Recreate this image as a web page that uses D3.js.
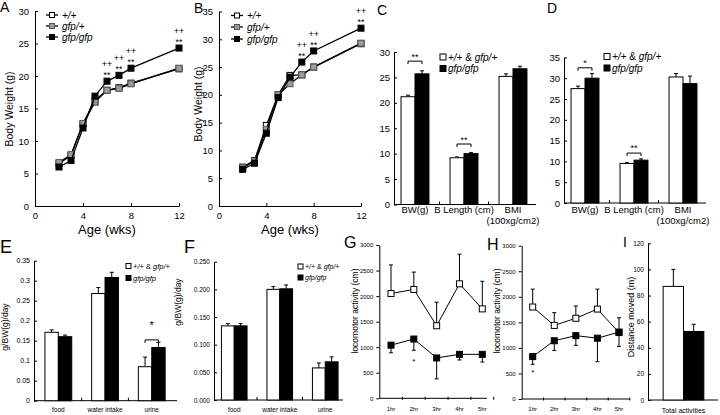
<!DOCTYPE html>
<html>
<head>
<meta charset="utf-8">
<script src="https://cdn.jsdelivr.net/npm/d3@7"></script>
<style>
  body { margin: 0; background: #fff; }
  svg text { font-family: "Liberation Sans", Arial, sans-serif; fill: #000; }
</style>
</head>
<body>
<div id="figure"></div>
<script>
// ---------- data ----------
const ageWeeks = [2, 3, 4, 5, 6, 7, 8, 12];
const growthLegend = ["+/+", "gfp/+", "gfp/gfp"];

// panel A body weight, g
const aWt  = [6.5, 7.8, 12.6, 16.0, 17.8, 18.2, 18.9, 21.1];
const aHet = [6.7, 7.9, 12.7, 16.3, 17.8, 18.1, 18.8, 21.2];
const aHom = [6.0, 7.0, 12.0, 16.9, 19.2, 20.1, 21.2, 24.3];
const aSigWeeks = [6, 7, 8, 12];

// panel B body weight, g
const bWt  = [7.0, 8.2, 14.5, 20.0, 23.5, 23.6, 25.0, 29.2];
const bHet = [6.9, 8.1, 13.8, 20.0, 22.0, 23.6, 25.0, 29.3];
const bHom = [6.6, 7.7, 13.1, 19.5, 23.2, 25.9, 27.9, 32.0];
const bSigWeeks = [7, 8, 12];

// panels C / D
const bodyCats = ["BW(g)", "B Length (cm)", "BMI"];
const bodyLabels = [["BW(g)"], ["B Length (cm)"], ["BMI", "(100xg/cm2)"]];
const cCtrl = [21.2, 9.2, 25.2], cCtrlErr = [0.3, 0.15, 0.5];
const cHom  = [25.7, 10.0, 26.7], cHomErr = [0.6, 0.2, 0.5];
const cSig = [{cat: "BW(g)", level: 28.2, mark: "**"}, {cat: "B Length (cm)", level: 11.9, mark: "**"}];
const dCtrl = [27.5, 9.5, 30.3], dCtrlErr = [0.6, 0.2, 0.8];
const dHom  = [30.0, 10.3, 28.7], dHomErr = [1.1, 0.3, 1.8];
const dSig = [{cat: "BW(g)", level: 32.5, mark: "*"}, {cat: "B Length (cm)", level: 12.0, mark: "**"}];

// panels E / F, g/BW(g)/day
const intakeCats = ["food", "water intake", "urine"];
const eCtrl = [0.171, 0.268, 0.085], eCtrlErr = [0.006, 0.015, 0.024];
const eHom  = [0.160, 0.308, 0.133], eHomErr = [0.004, 0.013, 0.013];
const eSig = [{cat: "urine", level: 0.152, mark: "*"}];
const fCtrl = [0.134, 0.200, 0.058], fCtrlErr = [0.004, 0.005, 0.009];
const fHom  = [0.134, 0.201, 0.069], fHomErr = [0.004, 0.007, 0.009];

// panels G / H, locomotor activity (cm)
const hours = ["1hr", "2hr", "3hr", "4hr", "5hr"];
const gCtrl = [2050, 2130, 1420, 2240, 1750], gCtrlErr = [560, 340, 460, 580, 540];
const gHom  = [1040, 1160, 790, 860, 860],    gHomErr  = [150, 220, 410, 110, 150];
const gHomErrUp = [0, 0, 0, 0, 0];
const hCtrl = [1800, 1440, 1580, 1760, 1300], hCtrlErr = [350, 250, 240, 390, 0];
const hHom  = [830, 1140, 1240, 1190, 1310],  hHomErr  = [150, 190, 190, 460, 280];
const hHomErrUp = [0, 0, 0, 0, 280];

// panel I, distance moved (m)
const totalCats = ["Total activities"];
const iCtrl = [87.0], iCtrlErr = [13.0];
const iHom  = [52.5], iHomErr  = [5.5];

// ---------- drawing ----------
const svg = d3.select("#figure").append("svg")
  .attr("width", 720).attr("height", 415);

function letter(t, x, y, size) {
  svg.append("text").attr("x", x).attr("y", y).attr("font-size", size).text(t);
}

function vLabel(t, x, y, size) {
  svg.append("text").attr("transform", `translate(${x},${y}) rotate(-90)`)
    .attr("text-anchor", "middle").attr("font-size", size).text(t);
}

// legend text with italic genotype parts
function genoText(sel, label) {
  if (label === "+/+ & gfp/+") {
    sel.append("tspan").attr("font-style", "italic").text("+/+");
    sel.append("tspan").text(" & ");
    sel.append("tspan").attr("font-style", "italic").text("gfp/+");
  } else {
    sel.attr("font-style", "italic").text(label);
  }
}

function growth(o) {
  const x = d3.scaleLinear().domain([0, 12]).range(o.xr);
  const y = d3.scaleLinear().domain([0, o.ymax]).range(o.yr);
  const g = svg.append("g");

  g.append("g").attr("transform", `translate(${o.xr[0]},0)`)
    .call(d3.axisLeft(y).tickValues(d3.range(0, o.ymax + 1, 5)).tickSizeInner(-3).tickSizeOuter(0).tickPadding(6))
    .attr("font-size", 9.5);
  g.append("g").attr("transform", `translate(0,${o.yr[0]})`)
    .call(d3.axisBottom(x).tickValues([0, 4, 8, 12]).tickSizeInner(-3).tickSizeOuter(0).tickPadding(6))
    .attr("font-size", 9.5);

  const series = [
    {vals: o.wt, fill: "#fff", stroke: "#000"},
    {vals: o.het, fill: "#9c9c9c", stroke: "#555"},
    {vals: o.hom, fill: "#000", stroke: "#000"}
  ];
  const line = d3.line().x(d => x(d[0])).y(d => y(d[1]));
  series.forEach(s => {
    const pts = ageWeeks.map((w, i) => [w, s.vals[i]]);
    g.append("path").attr("d", line(pts)).attr("fill", "none")
      .attr("stroke", "#000").attr("stroke-width", 1.3);
    g.selectAll(null).data(pts).join("rect")
      .attr("x", d => x(d[0]) - 3).attr("y", d => y(d[1]) - 3)
      .attr("width", 6).attr("height", 6)
      .attr("fill", s.fill).attr("stroke", s.stroke).attr("stroke-width", 1);
  });

  // significance marks above gfp/gfp points
  o.sig.forEach(wk => {
    const i = ageWeeks.indexOf(wk);
    const px = x(wk), py = y(o.hom[i]);
    g.append("text").attr("x", px).attr("y", py - 3).attr("text-anchor", "middle").attr("font-size", 9).text("**");
    g.append("text").attr("x", px).attr("y", py - 14).attr("text-anchor", "middle").attr("font-size", 9).text("++");
  });

  // legend
  growthLegend.forEach((lab, i) => {
    const ly = o.leg.y[i];
    g.append("line").attr("x1", o.leg.x - 6).attr("x2", o.leg.x + 6).attr("y1", ly).attr("y2", ly)
      .attr("stroke", "#000").attr("stroke-width", 1.3);
    g.append("rect").attr("x", o.leg.x - 2.5).attr("y", ly - 2.5).attr("width", 5).attr("height", 5)
      .attr("fill", series[i].fill).attr("stroke", series[i].stroke);
    g.append("text").attr("x", o.leg.x + 10).attr("y", ly + 3.5).attr("font-size", 10)
      .call(genoText, lab);
  });

  vLabel("Body Weight (g)", o.labX, o.labY, 10.5);
}

function bars(o) {
  const x = d3.scaleBand().domain(o.cats).range(o.xr).paddingInner(o.pad).paddingOuter(o.pad / 2);
  const y = d3.scaleLinear().domain([0, o.ymax]).range(o.yr);
  const g = svg.append("g");
  const bw = x.bandwidth() / 2;

  g.append("g").attr("transform", `translate(${o.ax[0]},0)`)
    .call(d3.axisLeft(y).tickValues(o.yticks).tickFormat(o.fmt).tickSizeInner(-3).tickSizeOuter(0).tickPadding(4))
    .attr("font-size", o.tickFont);
  g.append("line").attr("x1", o.ax[0]).attr("x2", o.ax[1]).attr("y1", y(0)).attr("y2", y(0))
    .attr("stroke", "#000");
  // small marks between categories
  o.cats.slice(1).forEach(c => {
    const sx = x(c) - (x.step() - x.bandwidth()) / 2;
    g.append("line").attr("x1", sx).attr("x2", sx).attr("y1", y(0)).attr("y2", y(0) - 3).attr("stroke", "#000");
  });

  const groups = [
    {vals: o.ctrl, err: o.ctrlErr, fill: "#fff", dx: 0},
    {vals: o.hom, err: o.homErr, fill: "#000", dx: bw}
  ];
  groups.forEach(gr => {
    o.cats.forEach((c, i) => {
      const cx = x(c) + gr.dx + bw / 2;
      g.append("line").attr("x1", cx).attr("x2", cx)
        .attr("y1", y(gr.vals[i])).attr("y2", y(gr.vals[i] + gr.err[i])).attr("stroke", "#000");
      g.append("line").attr("x1", cx - 2).attr("x2", cx + 2)
        .attr("y1", y(gr.vals[i] + gr.err[i])).attr("y2", y(gr.vals[i] + gr.err[i])).attr("stroke", "#000");
    });
    g.selectAll(null).data(o.cats).join("rect")
      .attr("x", c => x(c) + gr.dx).attr("y", (c, i) => y(gr.vals[i]))
      .attr("width", bw).attr("height", (c, i) => y(0) - y(gr.vals[i]))
      .attr("fill", gr.fill).attr("stroke", "#000").attr("stroke-width", 1);
  });

  // category labels
  o.cats.forEach((c, i) => {
    const cx = x(c) + x.bandwidth() / 2;
    const t = g.append("text").attr("text-anchor", "middle").attr("font-size", o.labFont)
      .attr("x", cx).attr("y", o.labY);
    o.labels[i].forEach((ln, k) => {
      t.append("tspan").attr("x", cx).attr("dy", k ? o.labFont * 1.2 : 0).text(ln);
    });
  });

  // significance brackets
  (o.sig || []).forEach(s => {
    const x1 = x(s.cat) + bw / 2, x2 = x(s.cat) + bw * 1.5, by = y(s.level);
    g.append("path").attr("d", `M${x1},${by + 3}V${by}H${x2}V${by + 3}`)
      .attr("fill", "none").attr("stroke", "#000");
    g.append("text").attr("x", (x1 + x2) / 2).attr("y", by - o.sigDy).attr("text-anchor", "middle")
      .attr("font-size", o.sigFont).text(s.mark);
  });

  // legend
  if (o.leg) {
    ["+/+ & gfp/+", "gfp/gfp"].forEach((lab, i) => {
      const ly = o.leg.y[i];
      g.append("rect").attr("x", o.leg.x).attr("y", ly - o.leg.s / 2).attr("width", o.leg.s).attr("height", o.leg.s)
        .attr("fill", i ? "#000" : "#fff").attr("stroke", "#000");
      g.append("text").attr("x", o.leg.x + o.leg.s + 2).attr("y", ly + o.leg.font * 0.35)
        .attr("font-size", o.leg.font).call(genoText, lab);
    });
  }
}

function activity(o) {
  const x = d3.scalePoint().domain(hours).range(o.xr);
  const y = d3.scaleLinear().domain([0, 3000]).range(o.yr);
  const g = svg.append("g");

  g.append("g").attr("transform", `translate(${o.ax[0]},0)`)
    .call(d3.axisLeft(y).tickValues(d3.range(0, 3001, 500)).tickFormat(d3.format("d"))
      .tickSizeInner(3).tickSizeOuter(0).tickPadding(3))
    .attr("font-size", 6);
  g.append("line").attr("x1", o.ax[0]).attr("x2", o.ax[1]).attr("y1", y(0)).attr("y2", y(0)).attr("stroke", "#000");
  const half = x.step() / 2;
  hours.forEach(h => {
    g.append("line").attr("x1", x(h) + half).attr("x2", x(h) + half)
      .attr("y1", y(0) - 1.5).attr("y2", y(0) + 1.5).attr("stroke", "#000");
    g.append("text").attr("x", x(h)).attr("y", 410.5).attr("text-anchor", "middle")
      .attr("font-size", 6).text(h);
  });

  const line = d3.line().x((d, i) => x(hours[i])).y(d => y(d));
  const cap = (cx, v) => g.append("line").attr("x1", cx - 2).attr("x2", cx + 2)
    .attr("y1", y(v)).attr("y2", y(v)).attr("stroke", "#000");
  const err = (cx, a, b) => {
    g.append("line").attr("x1", cx).attr("x2", cx).attr("y1", y(a)).attr("y2", y(b)).attr("stroke", "#000");
    cap(cx, b);
  };
  hours.forEach((h, i) => {
    if (o.ctrlErr[i]) err(x(h), o.ctrl[i], o.ctrl[i] + o.ctrlErr[i]);
    if (o.homErr[i]) err(x(h), o.hom[i], o.hom[i] - o.homErr[i]);
    if (o.homErrUp[i]) err(x(h), o.hom[i], o.hom[i] + o.homErrUp[i]);
  });
  [{v: o.ctrl, fill: "#fff"}, {v: o.hom, fill: "#000"}].forEach(s => {
    g.append("path").attr("d", line(s.v)).attr("fill", "none").attr("stroke", "#000").attr("stroke-width", 1);
    g.selectAll(null).data(s.v).join("rect")
      .attr("x", (d, i) => x(hours[i]) - 3).attr("y", d => y(d) - 3)
      .attr("width", 6).attr("height", 6)
      .attr("fill", s.fill).attr("stroke", "#000");
  });

  g.append("text").attr("x", x(o.star)).attr("y", o.starY).attr("text-anchor", "middle")
    .attr("font-size", 8).text("*");
  vLabel("locomotor activity (cm)", o.labX, 311, 8.5);
}

// ---- A, B ----
growth({xr: [35, 179], yr: [206, 11], ymax: 30, wt: aWt, het: aHet, hom: aHom, sig: aSigWeeks,
        leg: {x: 52, y: [15, 26, 37]}, labX: 13, labY: 109});
growth({xr: [219, 361], yr: [206, 11.5], ymax: 35, wt: bWt, het: bHet, hom: bHom, sig: bSigWeeks,
        leg: {x: 237, y: [15.5, 27, 39]}, labX: 202, labY: 104});
svg.append("text").attr("x", 107).attr("y", 234).attr("text-anchor", "middle").attr("font-size", 13).text("Age (wks)");
svg.append("text").attr("x", 290).attr("y", 234).attr("text-anchor", "middle").attr("font-size", 13).text("Age (wks)");

// ---- C, D ----
bars({cats: bodyCats, labels: bodyLabels, ctrl: cCtrl, ctrlErr: cCtrlErr, hom: cHom, homErr: cHomErr,
      xr: [390.5, 537.5], pad: 0.43, ax: [394, 536], ymax: 30, yr: [204.5, 52],
      yticks: d3.range(0, 31, 5), fmt: d3.format("d"), tickFont: 9.5,
      labFont: 9.5, labY: 212.5, sig: cSig, sigDy: 1, sigFont: 9,
      leg: {x: 440, y: [57, 68.5], s: 6, font: 10}});
bars({cats: bodyCats, labels: bodyLabels, ctrl: dCtrl, ctrlErr: dCtrlErr, hom: dHom, homErr: dHomErr,
      xr: [560.5, 707.5], pad: 0.43, ax: [564, 706], ymax: 35, yr: [203, 57.4],
      yticks: d3.range(0, 36, 5), fmt: d3.format("d"), tickFont: 9.5,
      labFont: 9.5, labY: 212.5, sig: dSig, sigDy: 2, sigFont: 9,
      leg: {x: 604, y: [56.5, 68], s: 6, font: 10}});

// ---- E, F ----
bars({cats: intakeCats, labels: intakeCats.map(c => [c]), ctrl: eCtrl, ctrlErr: eCtrlErr, hom: eHom, homErr: eHomErr,
      xr: [35, 175.1], pad: 0.426, ax: [34, 177], ymax: 0.35, yr: [400.7, 260.7],
      yticks: d3.range(0, 0.351, 0.05), fmt: d => String(+d.toFixed(2)), tickFont: 7,
      labFont: 6.5, labY: 412, sig: eSig, sigDy: 11, sigFont: 11,
      leg: {x: 126, y: [266, 278], s: 5, font: 7.5}});
bars({cats: intakeCats, labels: intakeCats.map(c => [c]), ctrl: fCtrl, ctrlErr: fCtrlErr, hom: fHom, homErr: fHomErr,
      xr: [211.5, 348], pad: 0.437, ax: [214, 343], ymax: 0.25, yr: [400, 261.7],
      yticks: d3.range(0, 0.251, 0.05), fmt: d3.format(".3f"), tickFont: 6.5,
      labFont: 6.5, labY: 412,
      leg: {x: 298, y: [266.5, 277.5], s: 5, font: 7}});
vLabel("g/BW(g)/day", 8, 327, 8.5);
vLabel("g/BW(g)/day", 181, 302, 8.5);

// ---- G, H ----
activity({xr: [391, 482.3], yr: [398.3, 245], ax: [379.3, 487], ctrl: gCtrl, ctrlErr: gCtrlErr,
          hom: gHom, homErr: gHomErr, homErrUp: gHomErrUp, star: "2hr", starY: 364, labX: 358});
activity({xr: [532.7, 619], yr: [399, 245.7], ax: [521.7, 630], ctrl: hCtrl, ctrlErr: hCtrlErr,
          hom: hHom, homErr: hHomErr, homErrUp: hHomErrUp, star: "1hr", starY: 375, labX: 500});

// ---- I ----
bars({cats: totalCats, labels: [totalCats], ctrl: iCtrl, ctrlErr: iCtrlErr, hom: iHom, homErr: iHomErr,
      xr: [648, 719], pad: 0.427, ax: [648, 718], ymax: 120, yr: [400, 243.3],
      yticks: d3.range(0, 121, 20), fmt: d3.format("d"), tickFont: 6.5,
      labFont: 7, labY: 412.5});
vLabel("Distance moved (m)", 634, 317, 9);

// panel letters
letter("A", 0, 12, 14);
letter("B", 194, 13, 14);
letter("C", 377, 15, 14);
letter("D", 547, 13, 14);
letter("E", 0, 253, 18);
letter("F", 184, 253, 18);
letter("G", 344, 248, 16);
letter("H", 487, 250, 16);
letter("I", 623, 247, 14);
</script>
</body>
</html>
